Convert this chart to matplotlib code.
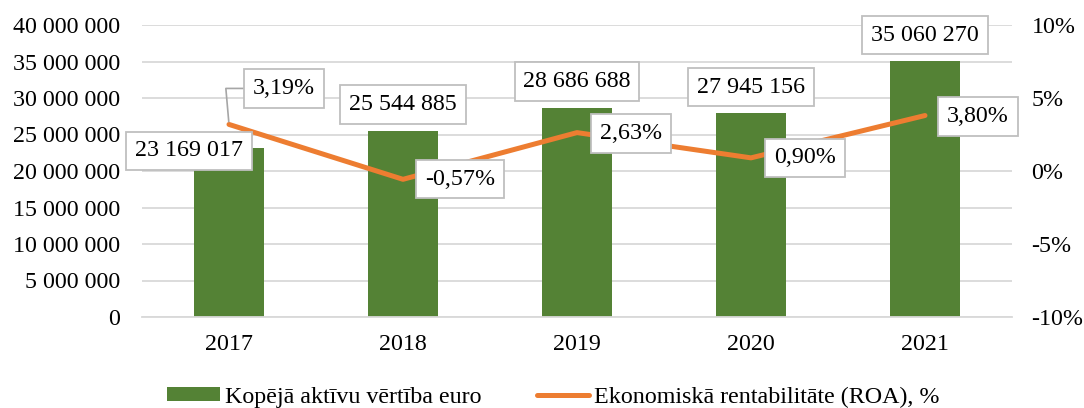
import matplotlib
matplotlib.use("Agg")
import matplotlib.pyplot as plt
from matplotlib.ticker import FuncFormatter, MultipleLocator

# data
years = ["2017", "2018", "2019", "2020", "2021"]
assets = [23169017, 25544885, 28686688, 27945156, 35060270]
roa = [3.19, -0.57, 2.63, 0.90, 3.80]

bar_name = "Kopējā aktīvu vērtība euro"
line_name = "Ekonomiskā rentabilitāte (ROA), %"

GREEN = "#548235"
ORANGE = "#ED7D31"
GRID = "#D9D9D9"
FS = 17.3

plt.rcParams["font.family"] = ["Liberation Serif", "DejaVu Serif"]

fig = plt.figure(figsize=(10.84, 4.08), dpi=100)
ax = fig.add_axes([142 / 1084, 91 / 408, 870 / 1084, 292 / 408])
ax2 = ax.twinx()

x = list(range(len(years)))
bars = ax.bar(x, assets, width=0.4, color=GREEN, zorder=2, label=bar_name)
line, = ax2.plot(x, roa, color=ORANGE, lw=3.6, solid_capstyle="round",
                 zorder=3, label=line_name)

ax.set_xlim(-0.5, len(years) - 0.5)
ax.set_ylim(0, 40000000)
ax.yaxis.set_major_locator(MultipleLocator(5000000))
ax.yaxis.set_major_formatter(FuncFormatter(lambda v, p: f"{int(v):,}".replace(",", " ")))
ax2.set_ylim(-10, 10)
ax2.yaxis.set_major_locator(MultipleLocator(5))
ax2.yaxis.set_major_formatter(FuncFormatter(lambda v, p: f"{int(v)}%"))

ax.set_xticks(x)
ax.set_xticklabels(years)
ax.grid(axis="y", color=GRID, lw=1.3, zorder=0)
ax.set_axisbelow(True)

for a in (ax, ax2):
    for s in a.spines.values():
        s.set_visible(False)
ax.spines["bottom"].set_visible(True)
ax.spines["bottom"].set_color(GRID)
ax.spines["bottom"].set_linewidth(1.3)

ax.tick_params(axis="y", length=0, pad=15.5, labelsize=FS)
ax.tick_params(axis="x", length=0, pad=12, labelsize=FS)
ax2.tick_params(axis="y", length=0, pad=14, labelsize=FS)

box = dict(boxstyle="square,pad=0.36", fc="white", ec="#BFBFBF", lw=1.3)

# bar value labels (offsets in pixels)
bar_offsets = [(-40, -3), (0, 26), (0, 26), (0, 26), (0, 26)]
for xi, v, off in zip(x, assets, bar_offsets):
    ax2.annotate(f"{v:,}".replace(",", " "), xy=(xi, v / 40000000 * 20 - 10),
                 xytext=off, textcoords="offset pixels", ha="center", va="center",
                 fontsize=FS, bbox=box, zorder=5)

# ROA labels
roa_offsets = [(55, 36), (57, 0), (54, -1), (54, 0), (53, -1)]
for i, (xi, v, off) in enumerate(zip(x, roa, roa_offsets)):
    arrow = None
    if i == 0:
        arrow = dict(arrowstyle="-", color="#A6A6A6", lw=1.2, shrinkA=0, shrinkB=2,
                     connectionstyle="angle,angleA=0,angleB=95,rad=0")
    ax2.annotate(f"{v:.2f}%".replace(".", ","), xy=(xi, v), xytext=off,
                 textcoords="offset pixels", ha="center", va="center",
                 fontsize=FS, bbox=box, arrowprops=arrow, zorder=6)

fig.legend(handles=[bars, line], labels=[bar_name, line_name], loc="center",
           bbox_to_anchor=(0.5105, 0.027), ncol=2, frameon=False, fontsize=FS,
           handlelength=2.2, handleheight=0.5, handletextpad=0.2,
           columnspacing=2.3, borderaxespad=0, borderpad=0)

fig.savefig("out.png", dpi=100)
